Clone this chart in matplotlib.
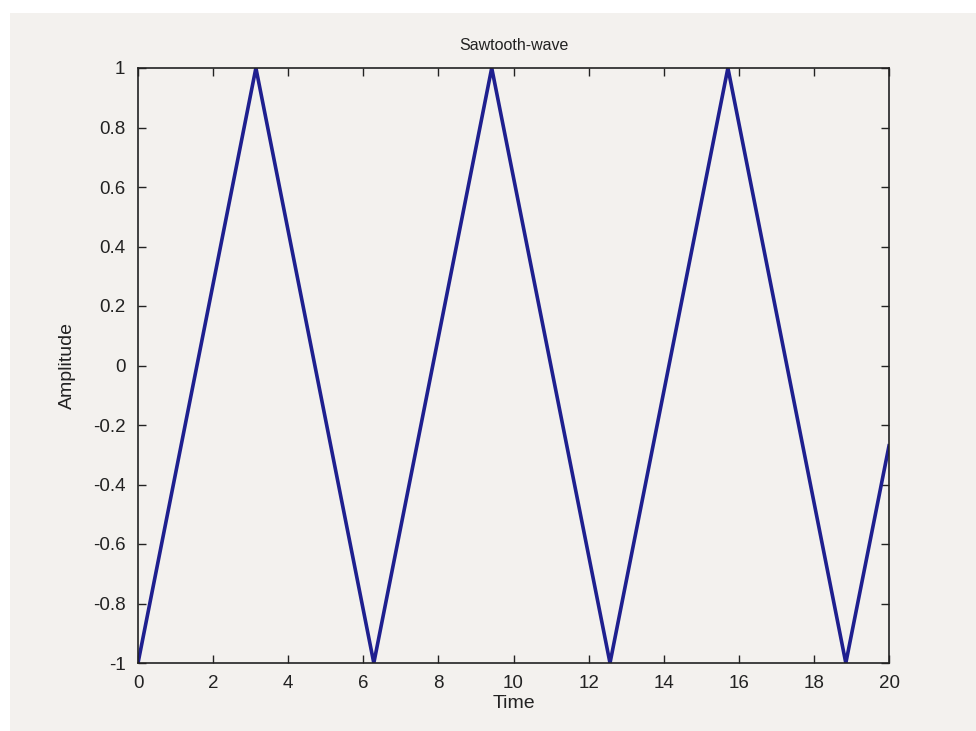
import matplotlib.pyplot as plt
from matplotlib.patches import Rectangle

# triangle-wave vertices
t = [0, 3.14, 6.28, 9.42, 12.57, 15.71, 18.85, 20]
amp = [-1, 1, -1, 1, -1, 1, -1, -0.27]

xticks = [0, 2, 4, 6, 8, 10, 12, 14, 16, 18, 20]
yticks = [-1, -0.8, -0.6, -0.4, -0.2, 0, 0.2, 0.4, 0.6, 0.8, 1]
ytick_labels = ['-1', '-0.8', '-0.6', '-0.4', '-0.2', '0', '0.2', '0.4', '0.6', '0.8', '1']

bg = '#f3f1ee'
plt.rcParams['font.family'] = ['Liberation Sans', 'DejaVu Sans']

fig = plt.figure(figsize=(9.76, 7.31), dpi=100)
fig.patch.set_facecolor('white')
# gray window area, with a thin white margin at top and left
fig.patches.append(Rectangle((10 / 976, 0), 1, 1 - 13 / 731, transform=fig.transFigure,
                             facecolor=bg, edgecolor='none', zorder=-1))

ax = fig.add_axes([138 / 976, 68 / 731, 751 / 976, 595 / 731])
ax.set_facecolor(bg)
ax.plot(t, amp, color='#1f1f8f', linewidth=2.6, solid_joinstyle='miter')

ax.set_xlim(0, 20)
ax.set_ylim(-1, 1)
ax.set_xticks(xticks)
ax.set_yticks(yticks)
ax.set_yticklabels(ytick_labels)
ax.tick_params(direction='in', length=6, width=1, top=True, right=True,
               labelsize=13.5, colors='#222222')
ax.tick_params(axis='x', pad=9)
ax.tick_params(axis='y', pad=9)
for s in ax.spines.values():
    s.set_linewidth(1.2)
    s.set_color('#222222')

ax.set_title('Sawtooth-wave', fontsize=11.5, color='#222222', pad=13)
ax.set_xlabel('Time', fontsize=14, color='#222222', labelpad=2)
ax.set_ylabel('Amplitude', fontsize=14, color='#222222', labelpad=12)

fig.savefig('out.png', dpi=100, facecolor=fig.get_facecolor())
